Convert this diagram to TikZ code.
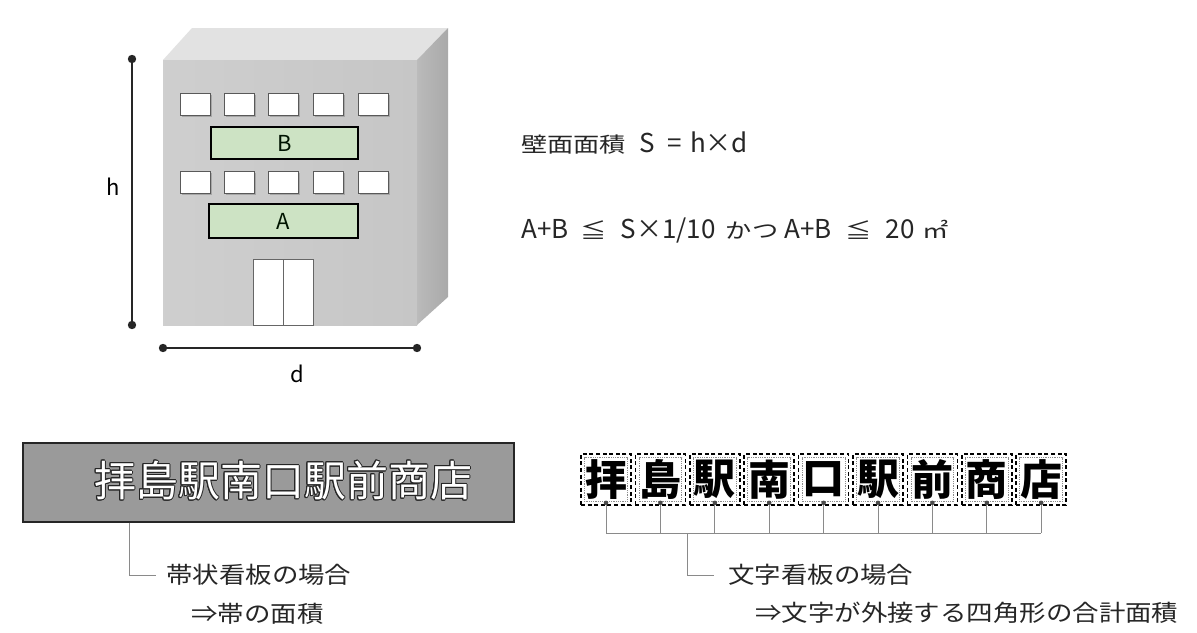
\documentclass[tikz,border=0pt]{standalone}
\usepackage{fontspec}
\usepackage[copies]{contour}
\usetikzlibrary{calc}
\newfontfamily\jp[FakeStretch=1.15]{Noto Sans CJK JP}
\newfontfamily\jpwide[FakeStretch=1.25]{Noto Sans CJK JP}
\newfontfamily\jpplain{Noto Sans CJK JP}
\definecolor{facefront}{HTML}{C6C6C6}
\definecolor{facetop}{HTML}{E2E2E2}
\definecolor{faceside}{HTML}{A9A9A9}
\definecolor{signgreen}{HTML}{CDE3C4}
\definecolor{bandgray}{HTML}{9A9A9A}
\definecolor{linkgray}{HTML}{8A8A8A}
\contourlength{1pt}
% CJK and Latin parts of the formulas
\newcommand{\fj}[1]{{\jpwide\fontsize{21}{24}\selectfont #1}}
\newcommand{\fl}[1]{{\jpplain\fontsize{26}{28}\selectfont #1}}
\tikzset{
  window/.style={draw=black!65, fill=white, line width=0.9pt},
  winshade/.style={fill=black!35},
  signbox/.style={draw=black, fill=signgreen, line width=1.6pt, inner sep=0pt,
    font=\jpplain\fontsize{22}{24}\selectfont, text=black!80!green!40!black},
  door/.style={draw=black!60, fill=white, line width=0.9pt},
  dim/.style={line width=2.4pt, black!85},
  dimdot/.style={fill=black!85},
  dimlabel/.style={font=\jpplain\fontsize{22}{24}\selectfont, inner sep=0pt},
  formula/.style={anchor=base west, inner sep=0pt, text=black!85},
  band/.style={draw=black!85, fill=bandgray, line width=1.2pt, inner sep=0pt},
  caption/.style={anchor=west, inner sep=0pt, font=\jp\fontsize{23}{26}\selectfont, text=black!85},
  conn/.style={draw=linkgray, line width=1pt},
  charbox/.style={draw=black, dashed, dash pattern=on 4pt off 2.6pt, line width=1.7pt,
    minimum width=50pt, minimum height=51pt, inner sep=0pt,
    font=\jpplain\bfseries\fontsize{42}{44}\selectfont},
  charinner/.style={draw=black!45, densely dotted, line width=0.8pt}
}
\begin{document}
\begin{tikzpicture}[x=1pt,y=-1pt]
\useasboundingbox (0,0) rectangle (1197,632);
\fill[white] (0,0) rectangle (1197,632);

% building: top, side and front faces
\fill[facetop] (163,60) -- (192,28) -- (448,28) -- (417,60) -- cycle;
\shade[left color=faceside!80!white, right color=faceside] (417,60) -- (448,28) -- (448,297) -- (417,325) -- cycle;
\shade[left color=facefront!85!white, right color=facefront] (163,60) rectangle (417,325);

% windows in two rows
\foreach \r in {93,171}{
  \foreach \c in {180,224,268,313,358}{
    \fill[winshade] (\c+1.5,\r+1.5) rectangle ++(30,22);
    \draw[window] (\c,\r) rectangle ++(30,22);
  }
}

% wall signs
\node[signbox, minimum width=147pt, minimum height=32pt] (signB) at (284.5,143) {B};
\node[signbox, minimum width=149pt, minimum height=34pt] (signA) at (283.5,221) {A};

% entrance door
\draw[door] (253,259) rectangle (313,325);
\draw[door] (283,259) -- (283,325);

% height and width dimensions
\coordinate (htop) at (132,59);
\coordinate (hbot) at (132,325);
\coordinate (dleft) at (163,348);
\coordinate (dright) at (417,348);
\draw[dim] (htop) -- (hbot);
\draw[dim] (dleft) -- (dright);
\foreach \p in {htop,hbot,dleft,dright} \fill[dimdot] (\p) circle (4.2pt);
\node[dimlabel] (hlabel) at (113,187) {h};
\node[dimlabel] (dlabel) at (297,374) {d};

% formulas
\node[formula] (area) at (521,152)
  {\fj{壁面面積}\hspace{13pt}\fl{S}\hspace{13pt}\fl{=}\hspace{8pt}\fl{h×d}};
\node[formula] (limit) at (521,238)
  {\fl{A+B}\hspace{12pt}\fj{≦}\hspace{14pt}\fl{S×1/10}\hspace{10pt}\fj{かつ}\hspace{6pt}\fl{A+B}\hspace{14pt}\fj{≦}\hspace{14pt}\fl{20}\hspace{8pt}\fj{㎡}};

% band-type sign
\node[band, minimum width=491pt, minimum height=79pt] (band) at (268.5,482.5) {};
\node[inner sep=0pt, font=\jpplain\fontsize{42}{44}\selectfont] (bandtext) at (283,481) {\contour{black!85}{\textcolor{white}{拝島駅南口駅前商店}}};
\node[caption] (bandcap) at (166,575) {帯状看板の場合};
\node[caption] (bandarea) at (191,614) {⇒帯の面積};
\draw[conn] ($(band.south west)+(107,0)$) |- ([xshift=-10pt]bandcap.west);

% letter-type sign: one dashed box per character
\coordinate (bus) at (0,533);
\foreach [count=\i] \ch in {拝,島,駅,南,口,駅,前,商,店}{
  \node[charbox] (c\i) at (551.6+54.4*\i,479.5) {\ch};
  \draw[charinner] ([xshift=4.5pt,yshift=4.5pt]c\i.south west) rectangle ([xshift=-4.5pt,yshift=-4.5pt]c\i.north east);
  \draw[conn] ([yshift=3pt]c\i.south) -- (c\i.south |- bus);
  \fill[black!70] ([yshift=3pt]c\i.south) circle (2.3pt);
}
\draw[conn] (c1.south |- bus) -- (c9.south |- bus);
\coordinate (tap) at (687,533);
\node[caption] (lettercap) at (728,575) {文字看板の場合};
\node[caption] (letterarea) at (755,613) {⇒文字が外接する四角形の合計面積};
\draw[conn] (tap) |- ([xshift=-14pt]lettercap.west);
\end{tikzpicture}
\end{document}
